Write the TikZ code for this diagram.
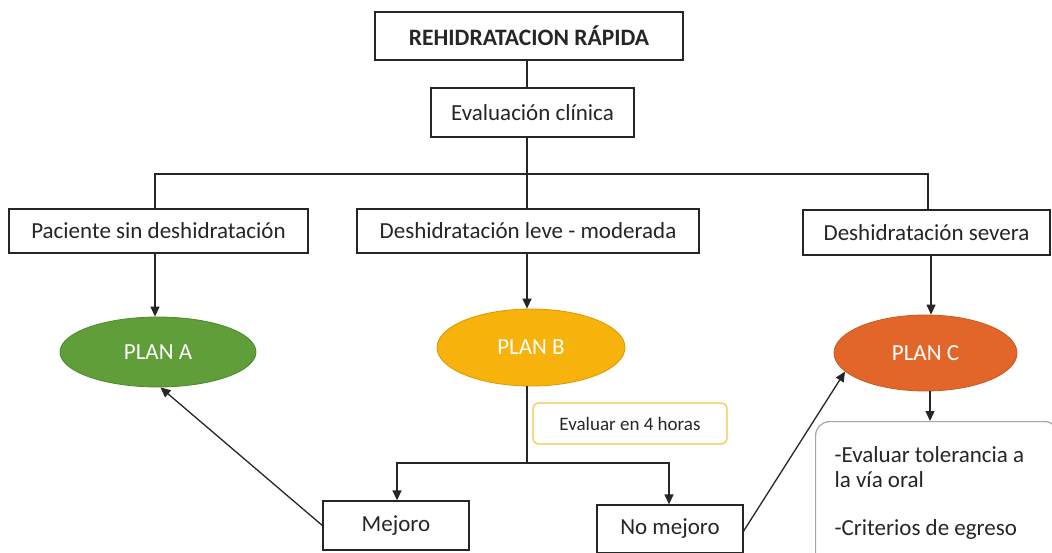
\documentclass[tikz,border=0pt]{standalone}
\usepackage{fontspec}
\setmainfont{Carlito}
\usetikzlibrary{shapes.geometric,arrows.meta}
\definecolor{txt}{HTML}{262626}
\definecolor{lin}{HTML}{262626}
\definecolor{gfill}{HTML}{5F9E38}
\definecolor{gdraw}{HTML}{4F8A2E}
\definecolor{yfill}{HTML}{F8B20C}
\definecolor{ydraw}{HTML}{D99A00}
\definecolor{ofill}{HTML}{E2662A}
\definecolor{odraw}{HTML}{C55A22}
\definecolor{yborder}{HTML}{F7C443}
\definecolor{gborder}{HTML}{A6A6A6}
\begin{document}
\begin{tikzpicture}[x=1pt,y=-1pt,
  box/.style={draw=lin, line width=1.3pt, fill=white, inner sep=0pt, text=txt,
    font=\fontsize{23}{27}\selectfont},
  plan/.style={ellipse, inner sep=0pt, line width=0.8pt, text=white,
    font=\fontsize{23}{27}\selectfont},
  con/.style={draw=lin, line width=1.3pt},
  arr/.style={draw=lin, line width=1.3pt, -{Triangle[length=10pt,width=9pt]}}]
\useasboundingbox (0,0) rectangle (1052,552);
\clip (0,0) rectangle (1052,552);

% boxes
\node[box, minimum width=308pt, minimum height=48pt] (top) at (529,36)
  {\fontsize{23.5}{27}\selectfont\bfseries REHIDRATACION RÁPIDA};
\node[box, minimum width=203pt, minimum height=49pt] (eval) at (532.5,112.5)
  {Evaluación clínica};
\node[box, minimum width=299pt, minimum height=44pt] (pac) at (158.5,231)
  {Paciente sin deshidratación};
\node[box, minimum width=342pt, minimum height=44pt] (leve) at (528,231)
  {Deshidratación leve - moderada};
\node[box, minimum width=247pt, minimum height=45pt] (sev) at (926.5,232.5)
  {Deshidratación severa};

% plans
\node[plan, fill=gfill, draw=gdraw, minimum width=196pt, minimum height=70pt] (planA) at (158,352) {PLAN A};
\node[plan, fill=yfill, draw=ydraw, minimum width=188pt, minimum height=77pt] (planB) at (531,347.5) {PLAN B};
\node[plan, fill=ofill, draw=odraw, minimum width=183pt, minimum height=76pt] (planC) at (925.5,353) {PLAN C};

\node[draw=yborder, line width=1.2pt, rounded corners=6pt, fill=white, text=txt,
  font=\fontsize{19}{23}\selectfont, minimum width=194pt, minimum height=41pt,
  inner sep=0pt] (evalr) at (630,423.5) {Evaluar en 4 horas};

\node[box, minimum width=146pt, minimum height=49pt] (mej) at (396,525.5) {Mejoro};
\node[box, minimum width=146pt, minimum height=48pt] (nomej) at (670,529) {No mejoro};

\node[draw=gborder, line width=1.2pt, rounded corners=14pt, fill=white, text=txt,
  anchor=north west, align=flush left, text width=205pt, text height=17pt, text depth=110pt,
  inner xsep=19pt, inner ysep=24pt, font=\fontsize{23}{25}\selectfont] (cbox) at (815,421)
  {-Evaluar tolerancia a\\la vía oral\\[23pt]-Criterios de egreso};

% junctions
\coordinate (j1) at (527,174);
\coordinate (jL) at (155,174);
\coordinate (jR) at (928,174);
\coordinate (j2) at (527,463);

% connectors
\draw[con] (top.south -| j1) -- (eval.north -| j1);
\draw[con] (eval.south -| j1) -- (j1);
\draw[con] (jL |- pac.north) -- (jL) -- (jR) -- (jR |- sev.north);
\draw[con] (j1) -- (j1 |- leve.north);

\draw[arr] (pac.south -| jL) -- (planA.north -| jL);
\draw[arr] (leve.south -| j1) -- (planB.north -| j1);
\draw[arr] ([xshift=3pt]sev.south -| jR) -- ([xshift=3pt]planC.north -| jR);

\draw[con] (planB.south -| j2) -- (j2);
\draw[arr] (j2) -| ([xshift=1pt]mej.north);
\draw[arr] (j2) -| ([xshift=-1pt]nomej.north);

\draw[arr] (mej.west) -- (planA.-86);
\draw[arr] ([yshift=-2pt]nomej.east) -- (planC.193);
\draw[arr] (planC.south -| 930,0) -- (cbox.north -| 930,0);
\end{tikzpicture}
\end{document}
